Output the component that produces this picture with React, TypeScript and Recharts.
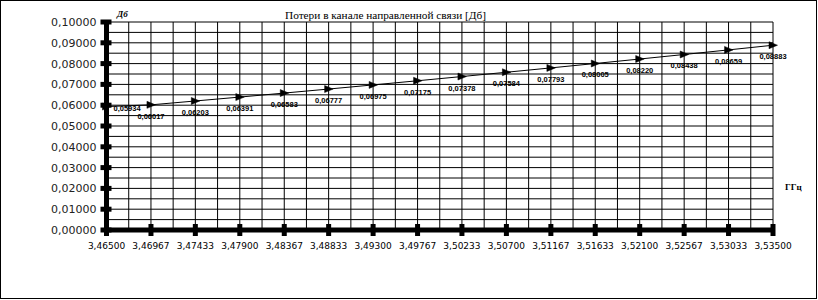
import React from 'react';
import { LineChart, Line, XAxis, YAxis, CartesianGrid, LabelList } from 'recharts';

const freqs = [3.465, 3.46967, 3.47433, 3.479, 3.48367, 3.48833, 3.493, 3.49767, 3.50233, 3.507, 3.51167, 3.51633, 3.521, 3.52567, 3.53033, 3.535];
const losses = [0.05934, 0.06017, 0.06203, 0.06391, 0.06583, 0.06777, 0.06975, 0.07175, 0.07378, 0.07584, 0.07793, 0.08005, 0.0822, 0.08438, 0.08659, 0.08883];
const yTicks = [0, 0.01, 0.02, 0.03, 0.04, 0.05, 0.06, 0.07, 0.08, 0.09, 0.1];

const title = 'Потери в канале направленной связи [Дб]';
const yUnit = 'Дб';
const xUnit = 'ГГц';

const X_DOMAIN: [number, number] = [3.465, 3.535];
const Y_DOMAIN: [number, number] = [0, 0.1];

const data = freqs.map((f, i) => ({ f, loss: losses[i] }));
const withMidpoints = (arr: number[]) =>
  arr.flatMap((v, i) => (i < arr.length - 1 ? [v, (v + arr[i + 1]) / 2] : [v]));
const xGridTicks = withMidpoints(freqs);
const yGridTicks = withMidpoints(yTicks);

const fmt = (v: number) => v.toFixed(5).replace('.', ',');

const vGen = (args: any) => {
  const { xAxis, offset } = args;
  const sc = xAxis && typeof xAxis.scale === 'function' ? xAxis.scale : null;
  return xGridTicks.map((v) =>
    sc ? sc(v) : offset.left + (offset.width * (v - X_DOMAIN[0])) / (X_DOMAIN[1] - X_DOMAIN[0])
  );
};
const hGen = (args: any) => {
  const { yAxis, offset } = args;
  const sc = yAxis && typeof yAxis.scale === 'function' ? yAxis.scale : null;
  return yGridTicks.map((v) =>
    sc ? sc(v) : offset.top + offset.height - (offset.height * (v - Y_DOMAIN[0])) / (Y_DOMAIN[1] - Y_DOMAIN[0])
  );
};

const XTick = (props: any) => {
  const { x, y, payload } = props;
  return (
    <g>
      <rect x={x - 2.5} y={y - 6} width={5} height={12} fill="#000" />
      <text x={x} y={y + 18.5} textAnchor="middle" fontSize={9} fontFamily="DejaVu Sans" fill="#000">
        {fmt(payload.value)}
      </text>
    </g>
  );
};

const YTick = (props: any) => {
  const { x, y, payload } = props;
  return (
    <g>
      <rect x={x - 6} y={y - 2.5} width={11} height={5} fill="#000" />
      <text x={x - 10} y={y + 4} textAnchor="end" fontSize={11} fontFamily="DejaVu Sans" fill="#222">
        {fmt(payload.value)}
      </text>
    </g>
  );
};

const Marker = (props: any) => {
  const { cx, cy, index } = props;
  if (cx == null || cy == null) return <g key={index} />;
  return (
    <polygon
      key={index}
      points={`${cx - 4},${cy - 3.5} ${cx + 4.5},${cy} ${cx - 4},${cy + 3.5}`}
      fill="#000"
      stroke="#000"
      strokeWidth={0.5}
    />
  );
};

const renderLabel = (p: any) => {
  const { x, y, value, index } = p;
  const first = index === 0;
  return (
    <text
      x={first ? x + 7 : x}
      y={first ? y + 4 : y + 14}
      textAnchor={first ? 'start' : 'middle'}
      fontSize={7.5}
      fontWeight="bold"
      fontFamily="Liberation Sans, Arial"
      fill="#000"
    >
      {fmt(value)}
    </text>
  );
};

export default function App() {
  return (
    <div style={{ position: 'absolute', left: 0, top: 0, width: 818, height: 300, background: '#fff' }}>
      <LineChart width={818} height={300} data={data} margin={{ top: 22, right: 45, bottom: 40, left: 46.5 }}>
        <CartesianGrid
          stroke="#000"
          strokeWidth={1}
          verticalCoordinatesGenerator={vGen}
          horizontalCoordinatesGenerator={hGen}
        />
        <XAxis
          dataKey="f"
          type="number"
          domain={X_DOMAIN}
          ticks={freqs}
          interval={0}
          height={30}
          tickSize={0}
          tickMargin={0}
          axisLine={{ stroke: '#000', strokeWidth: 5 }}
          tickLine={false}
          tick={<XTick />}
        />
        <YAxis
          type="number"
          domain={Y_DOMAIN}
          ticks={yTicks}
          interval={0}
          width={60}
          tickSize={0}
          tickMargin={0}
          axisLine={{ stroke: '#000', strokeWidth: 5 }}
          tickLine={false}
          tick={<YTick />}
        />
        <Line
          dataKey="loss"
          stroke="#000"
          strokeWidth={1}
          dot={<Marker />}
          activeDot={false}
          isAnimationActive={false}
        >
          <LabelList dataKey="loss" content={renderLabel} />
        </Line>
      </LineChart>
      <div style={{ position: 'absolute', left: 285, top: 8, fontFamily: 'Liberation Serif', fontSize: 11.3, lineHeight: '14px', whiteSpace: 'nowrap', color: '#000' }}>
        {title}
      </div>
      <div style={{ position: 'absolute', left: 117, top: 9, fontFamily: 'Liberation Serif', fontSize: 9, fontWeight: 'bold', fontStyle: 'italic', lineHeight: '10px', color: '#000' }}>
        {yUnit}
      </div>
      <div style={{ position: 'absolute', left: 785, top: 182, fontFamily: 'Liberation Serif', fontSize: 9, fontWeight: 'bold', lineHeight: '10px', color: '#000' }}>
        {xUnit}
      </div>
      <div style={{ position: 'absolute', left: 0, top: 0, width: 817, height: 299, border: '1px solid #000', boxSizing: 'border-box', pointerEvents: 'none' }} />
    </div>
  );
}
